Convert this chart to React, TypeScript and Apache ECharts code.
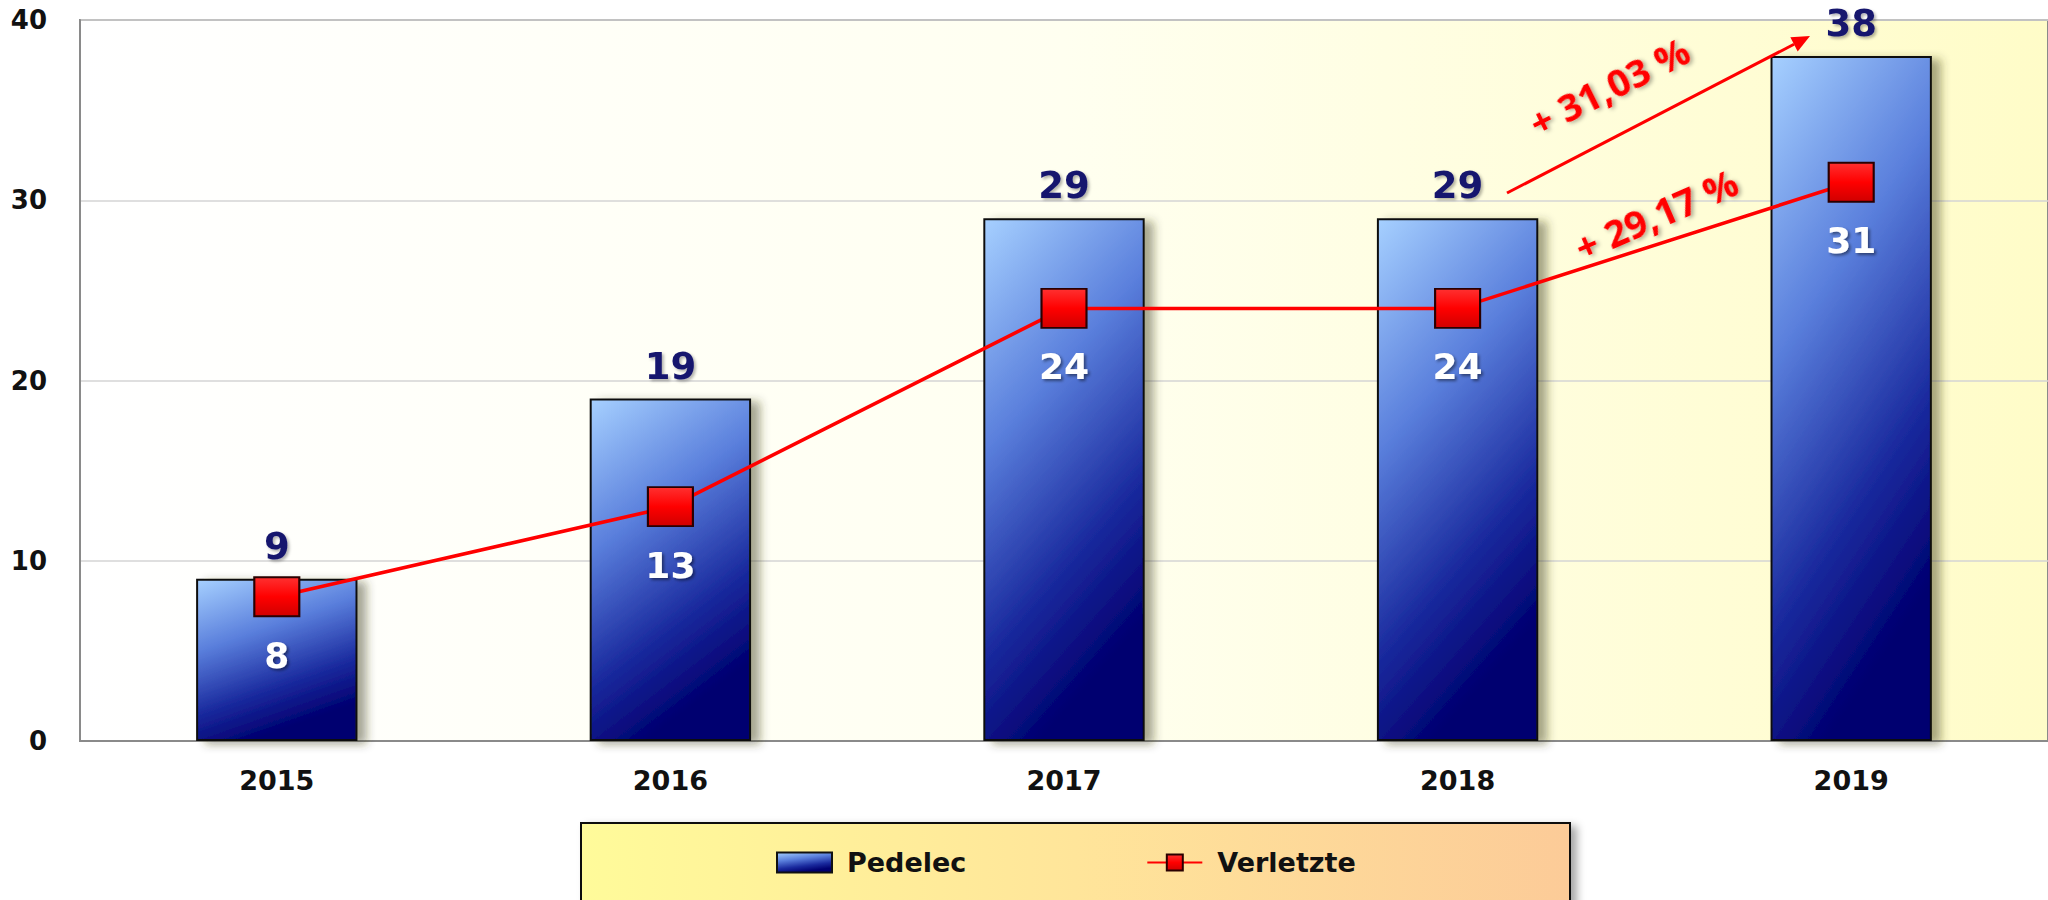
import React, { useEffect, useRef } from "react";
import * as echarts from "echarts";

const years = ["2015", "2016", "2017", "2018", "2019"];
const pedelec = [9, 19, 29, 29, 38];
const verletzte = [8, 13, 24, 24, 31];
const yTicks = { min: 0, max: 40, interval: 10 };
const noteTotal = "+ 31,03 %";
const noteInjured = "+ 29,17 %";

const FONT = "'DejaVu Sans', Verdana, sans-serif";
const NOTE_FONT = "'Open Sans', 'Noto Sans', sans-serif";

export default function App() {
  const ref = useRef<HTMLDivElement>(null);
  useEffect(() => {
    if (!ref.current) return;
    const chart = echarts.init(ref.current, null, { renderer: "svg" });

    // arrow geometry for annotation
    const ax1 = 1507, ay1 = 193, ax2 = 1810, ay2 = 36;
    const dx = ax2 - ax1, dy = ay2 - ay1;
    const len = Math.sqrt(dx * dx + dy * dy);
    const ux = dx / len, uy = dy / len;
    const nx = -uy, ny = ux;
    const hl = 18, hw = 8;
    const bx = ax2 - hl * ux, by = ay2 - hl * uy;

    const barGradient = new echarts.graphic.LinearGradient(0, 0, 0.35, 1, [
      { offset: 0, color: "#a6d0ff" },
      { offset: 0.4, color: "#5a7fdc" },
      { offset: 0.75, color: "#1a2a9e" },
      { offset: 1, color: "#000070" },
    ]);
    const markerGradient = new echarts.graphic.LinearGradient(0, 0, 0, 1, [
      { offset: 0, color: "#ff3030" },
      { offset: 0.5, color: "#ff0000" },
      { offset: 1, color: "#d00000" },
    ]);
    const noteStyle = {
      fill: "#ff0000",
      font: `bold 38px ${NOTE_FONT}`,
      align: "center",
      verticalAlign: "middle",
      textShadowColor: "rgba(0,0,0,0.35)",
      textShadowBlur: 4,
      textShadowOffsetX: 2,
      textShadowOffsetY: 2,
    };

    chart.setOption({
      animation: false,
      backgroundColor: "#ffffff",
      grid: {
        left: 80,
        right: -3,
        top: 20,
        bottom: 159,
        show: true,
        borderColor: "#8a8a8a",
        borderWidth: 2,
        backgroundColor: new echarts.graphic.LinearGradient(0, 0, 1, 0, [
          { offset: 0, color: "#ffffff" },
          { offset: 0.5, color: "#fffff0" },
          { offset: 1, color: "#fffcc8" },
        ]),
      },
      graphic: [
        {
          type: "rect",
          z: 1,
          shape: { x: 581, y: 823, width: 989, height: 90 },
          style: {
            fill: new echarts.graphic.LinearGradient(0, 0, 1, 0, [
              { offset: 0, color: "#fffb9a" },
              { offset: 0.5, color: "#ffe59a" },
              { offset: 1, color: "#fccb98" },
            ]),
            stroke: "#111111",
            lineWidth: 2,
            shadowColor: "rgba(0,0,0,0.35)",
            shadowBlur: 8,
            shadowOffsetX: 6,
            shadowOffsetY: 4,
          },
        },
        {
          type: "line",
          z: 10,
          shape: { x1: ax1, y1: ay1, x2: bx, y2: by },
          style: { stroke: "#ff0000", lineWidth: 3 },
        },
        {
          type: "polygon",
          z: 10,
          shape: {
            points: [
              [ax2, ay2],
              [bx + hw * nx, by + hw * ny],
              [bx - hw * nx, by - hw * ny],
            ],
          },
          style: { fill: "#ff0000" },
        },
        {
          type: "text",
          z: 10,
          x: 1609,
          y: 86,
          rotation: (26.5 * Math.PI) / 180,
          style: { text: noteTotal, ...noteStyle } as any,
        },
        {
          type: "text",
          z: 10,
          x: 1656,
          y: 214,
          rotation: (23.5 * Math.PI) / 180,
          style: { text: noteInjured, ...noteStyle } as any,
        },
      ],
      legend: {
        left: 776,
        top: 849,
        padding: 0,
        itemGap: 180,
        itemWidth: 55,
        itemHeight: 20,
        z: 5,
        textStyle: {
          fontFamily: FONT,
          fontWeight: "bold",
          fontSize: 27,
          color: "#111111",
          padding: [0, 0, 0, 10],
        },
        data: [
          {
            name: "Pedelec",
            icon: "rect",
            itemStyle: { color: barGradient, borderColor: "#111", borderWidth: 2 },
          },
          { name: "Verletzte" },
        ],
      },
      xAxis: {
        type: "category",
        data: years,
        axisLine: { show: true, lineStyle: { color: "#8a8a8a", width: 2 } },
        axisTick: { show: false },
        axisLabel: {
          fontFamily: FONT,
          fontWeight: "bold",
          fontSize: 27,
          color: "#111111",
          margin: 26,
        },
        splitLine: { show: false },
      },
      yAxis: {
        type: "value",
        min: yTicks.min,
        max: yTicks.max,
        interval: yTicks.interval,
        axisLine: { show: true, lineStyle: { color: "#8a8a8a", width: 2 } },
        axisTick: { show: false },
        axisLabel: {
          fontFamily: FONT,
          fontWeight: "bold",
          fontSize: 26,
          color: "#111111",
          margin: 33,
        },
        splitLine: { show: true, lineStyle: { color: "#d4d4d4", width: 1.5 } },
      },
      series: [
        {
          name: "Pedelec",
          type: "bar",
          data: pedelec,
          barWidth: "41%",
          z: 2,
          itemStyle: {
            color: barGradient,
            borderColor: "#111111",
            borderWidth: 2,
            shadowColor: "rgba(60,60,30,0.45)",
            shadowBlur: 10,
            shadowOffsetX: 9,
            shadowOffsetY: 3,
          },
          label: {
            show: true,
            position: "top",
            distance: 14,
            fontFamily: FONT,
            fontWeight: "bold",
            fontSize: 37,
            color: "#16166e",
            textShadowColor: "rgba(0,0,0,0.3)",
            textShadowBlur: 3,
            textShadowOffsetX: 2,
            textShadowOffsetY: 2,
          },
        },
        {
          name: "Verletzte",
          type: "line",
          data: verletzte,
          z: 5,
          symbol: "rect",
          symbolSize: [45, 39],
          lineStyle: { color: "#ff0000", width: 3.5 },
          itemStyle: {
            color: markerGradient,
            borderColor: "#2a0000",
            borderWidth: 2,
          },
          label: {
            show: true,
            position: "bottom",
            distance: 20,
            fontFamily: FONT,
            fontWeight: "bold",
            fontSize: 36,
            color: "#ffffff",
            textShadowColor: "rgba(0,0,0,0.45)",
            textShadowBlur: 3,
            textShadowOffsetX: 2,
            textShadowOffsetY: 2,
          },
        },
      ],
    });
    return () => chart.dispose();
  }, []);
  return (
    <div
      ref={ref}
      style={{ position: "fixed", left: 0, top: 0, width: 2048, height: 900 }}
    />
  );
}
